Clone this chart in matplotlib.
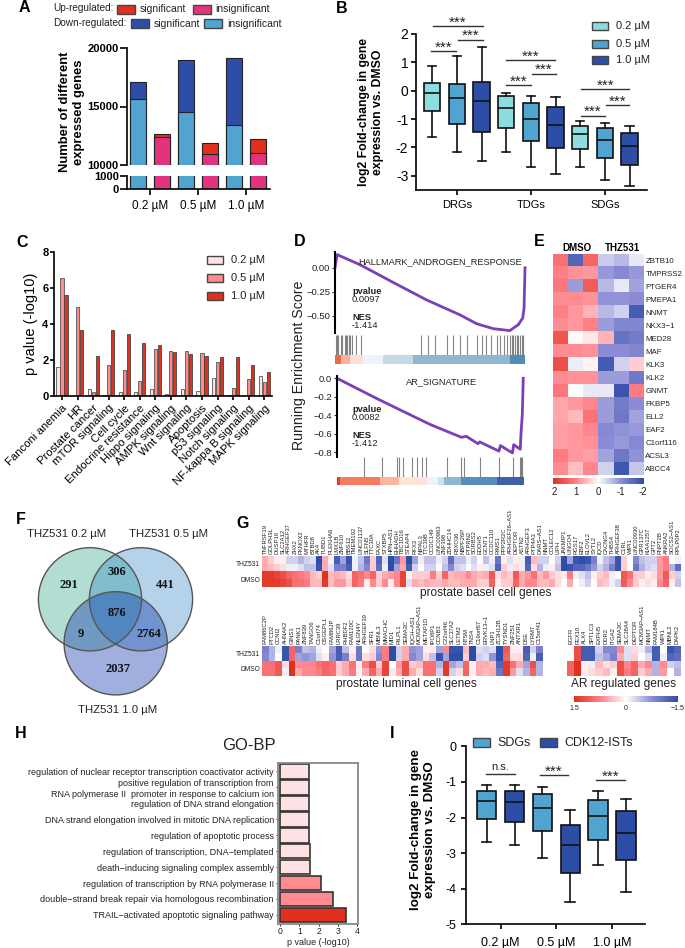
import numpy as np
import matplotlib
matplotlib.use('Agg')
import matplotlib.pyplot as plt
from matplotlib.colors import LinearSegmentedColormap
from matplotlib.patches import Rectangle, Circle

plt.rcParams['font.family'] = ['Liberation Sans', 'DejaVu Sans']

# colours
red = '#E0301E'
magenta = '#E2337F'
navy = '#2E4DA6'
sky = '#4FA5CF'
cyan = '#8CDDE0'
pink_l = '#FFE0E3'
pink_m = '#FF8A90'
rwb = LinearSegmentedColormap.from_list('rwb', [navy, '#8C8CD6', 'white', '#FF8088', red])

# panel A
doses = ['0.2 µM', '0.5 µM', '1.0 µM']
down_insig = [15600, 14550, 13400]
down_total = [17100, 18950, 19150]
up_insig = [12360, 10900, 11000]
up_total = [12640, 11850, 12200]

# panel B: whisker low, q1, median, q3, whisker high
b_groups = ['DRGs', 'TDGs', 'SDGs']
b_doses = ['0.2 µM', '0.5 µM', '1.0 µM']
b_drg = [[-1.63, -0.73, -0.08, 0.28, 0.87], [-2.15, -1.17, -0.25, 0.23, 1.22], [-2.47, -1.47, -0.38, 0.30, 1.55]]
b_tdg = [[-2.17, -1.33, -0.60, -0.20, -0.07], [-2.70, -1.78, -0.98, -0.43, -0.18], [-2.92, -2.03, -1.20, -0.58, -0.23]]
b_sdg = [[-2.68, -2.04, -1.53, -1.23, -1.07], [-3.13, -2.37, -1.72, -1.33, -1.13], [-3.35, -2.63, -1.95, -1.50, -1.23]]

# panel C
pathways = ['Fanconi anemia', 'HR', 'Prostate cancer', 'mTOR signaling', 'Cell cycle', 'Endocrine resistance',
            'Hippo signaling', 'AMPK signaling', 'Wnt signaling', 'Apoptosis', 'p53 signaling', 'Notch signaling',
            'NF-kappa B signaling', 'MAPK signaling']
c_02 = [1.6, 0.02, 0.4, 0.05, 0.2, 0.22, 0.38, 0.12, 0.38, 0.3, 1.0, 0.05, 0.02, 1.1]
c_05 = [6.55, 4.95, 0.2, 1.7, 1.45, 0.85, 2.6, 2.5, 2.5, 2.4, 1.9, 0.45, 0.95, 0.8]
c_10 = [5.6, 3.65, 2.2, 3.65, 3.45, 2.95, 2.85, 2.45, 2.35, 2.25, 2.15, 2.15, 1.75, 1.35]

# panel D
hall_rank = [0, .011, .13, .306, .482, .657, .745, .833, .92, .965, .988, .995, 1]
hall_es = [0, .138, .034, -.152, -.335, -.49, -.583, -.635, -.655, -.593, -.524, -.42, 0]
hall_hits = [.004, .012, .018, .030, .039, .053, .060, .065, .072, .081, .090, .113, .139, .450, .490,
             .525, .587, .619, .658, .693, .745, .776, .797, .823, .853, .867, .890, .906, .920, .929,
             .938, .947, .956, .965, .974, .982, .991, .998]
hall_strip = [0, .03, .077, .148, .253, .408, .921, 1]
hall_cols = ['#E9694F', '#F8B09A', '#FDE0D5', '#EEF3FA', '#C5DAE6', '#8DB8D0', '#4F8DB8']
ar_rank = [0, .213, .497, .665, .692, .754, .763, .866, .874, .938, .945, .980, .984, .991, .996]
ar_es = [0, -.22, -.50, -.64, -.63, -.71, -.69, -.79, -.73, -.81, -.72, -.77, -.60, -.39, 0]
ar_hits = [.142, .239, .322, .333, .351, .399, .426, .452, .474, .586, .662, .678, .763, .866, .940,
           .980, .985, .991, .998]
ar_strip = [0, .018, .231, .333, .479, .541, .573, .665, .855, 1]
ar_cols = ['#D9432F', '#F77B5F', '#FDB5A0', '#FDE3D8', '#EEF3FA', '#CFE0EA', '#8DB8D0', '#5B8DBC', '#3E62A8']

# panel E
e_genes = ['ZBTB10', 'TMPRSS2', 'PTGER4', 'PMEPA1', 'NNMT', 'NKX3−1', 'MED28', 'MAF', 'KLK3', 'KLK2', 'GNMT',
           'FKBP5', 'ELL2', 'EAF2', 'C1orf116', 'ACSL3', 'ABCC4']
e_vals = [[1.2, -1.6, 1.3, -0.45, -0.6, -0.2],
          [1.0, 0.85, 0.8, -0.9, -1.05, -0.9],
          [1.1, -0.85, 1.45, -0.6, -0.2, -0.8],
          [0.9, 0.9, 0.85, -0.95, -0.95, -1.0],
          [1.0, 0.8, 0.6, -0.6, -0.4, -1.75],
          [0.9, 0.8, 1.0, -0.85, -1.1, -1.1],
          [1.5, 0.05, 0.2, 0.6, -1.4, -1.25],
          [0.9, 0.9, 0.85, -1.0, -1.0, -1.1],
          [1.6, -0.15, 0.1, -1.75, -0.4, 0.4],
          [0.9, 0.85, 0.85, -0.85, -0.85, -1.3],
          [1.1, 0.02, -0.2, -0.2, -1.85, 1.05],
          [0.7, 0.8, 0.95, -0.85, -1.25, -1.0],
          [0.7, 0.55, 1.15, -0.85, -1.3, -0.8],
          [0.75, 0.8, 0.95, -1.05, -0.95, -0.9],
          [0.75, 0.8, 0.85, -1.0, -0.9, -1.05],
          [1.05, 0.8, 0.75, -0.8, -1.3, -0.95],
          [0.9, 0.5, 0.95, -0.4, -1.8, -0.5]]

# panel F
venn_counts = ['291', '306', '441', '876', '9', '2764', '2037']

# panel G, one line per gene: THZ531, THZ531, DMSO, DMSO
basal_genes = ['TNFRSF19', 'GOLPH3L', 'DUSP16', 'SLC2A12', 'ARHGEF37', 'ZHX2', 'PKNOX2', 'MTHFR', 'BTBD8', 'AK4',
               'TUBD1', 'PLEKHA6', 'LMX1B', 'ZNF610', 'BBS12', 'TMEM192', 'LINC01137', 'SLFN5', 'TTC30A', 'FAXC',
               'STXBP5', 'HPN−AS1', 'EHHADH', 'TBC1D16', 'STEAP4', 'RFX3', 'NIPAL3', 'TTC39B', 'CCDC149', 'LINC00963',
               'ZNF398', 'ZDHHC14', 'FBXO36', 'NBPF26P', 'PTPRN2', 'SORBS2', 'EDDH5', 'GCNT1', 'CCDC110', 'RIMS1',
               'PPP2R2C', 'ARHGEF26−AS1', 'DEPTOR', 'ASTN2', 'ARHGEF3', 'PTP4A3', 'DARS−AS1', 'NNMT', 'COLEC12', 'LIPH',
               'JAKMIP1', 'LINGO4', 'RGS17', 'EBF2', 'ELOVL2', 'SYTL2', 'IQCD', 'CACNG4', 'THBS4', 'ARHGEF38',
               'C1RL', 'WIPI1', 'LINC00930', 'GPR137C', 'KIAA1257', 'GPT2', 'PNPT2B', 'ANKRA2', 'SOCS2−AS1', 'RPLP0P2']
basal_vals = [[.5, .5, 1.4, 1.4], [.3, .4, 1.4, 1.4], [.1, .3, 1.3, 1.4], [.1, .2, 1.2, 1.3], [-.3, -.1, 1.0, 1.2],
              [-.3, -.1, .9, .9], [-.5, -.2, .8, .9], [-.3, -.4, .7, .8], [-.2, -.4, .4, .4], [-1.5, -1.4, .3, .4],
              [.5, .5, 1.5, 1.4], [.1, -.2, .4, .4], [-1.3, -.9, .5, .6], [-.6, -.9, .4, .6], [-1.4, -1.3, .2, .3],
              [-.1, -.1, 1.0, 1.0], [-.4, -.5, .9, .8], [-1.0, -.8, .7, .1], [.3, .3, 1.0, .7], [-1.2, -1.1, .3, .3],
              [-.2, -.1, .5, .7], [-1.5, -1.5, .6, .1], [-1.0, -.6, .7, .7], [.6, .5, 1.3, 1.3], [-1.5, -1.3, .1, -.2],
              [-.6, -.3, .3, .5], [-.1, .0, .3, .4], [-.4, -.3, .3, .5], [-.4, -.3, .8, .4], [-.1, .0, .3, .4],
              [-.3, -.4, 1.0, .5], [-1.1, -.8, .4, .4], [-.4, -.3, .5, .4], [-.4, -.2, .5, .5], [-.1, .0, .7, .5],
              [-.3, -.2, .5, .5], [.0, .1, .4, .3], [-.4, -.1, .5, .3], [-.1, -.2, 1.1, 1.0], [-1.0, -1.2, .2, .1],
              [.1, .3, .4, .3], [-.2, -.1, .3, .3], [.1, .2, 1.1, 1.0], [-.1, -.1, .5, .5], [-1.3, -1.2, .6, .7],
              [.4, .2, .9, .7], [-.3, -.5, .4, .4], [-.3, -.1, .6, .4], [.0, .1, .3, .5], [-.3, -.4, .2, .2],
              [-1.5, -1.5, .1, .0], [-.6, -1.4, .8, .5], [-1.4, -1.2, -.1, .0], [-1.5, -1.2, -.2, -.1], [-1.4, -1.0, -.4, -.3],
              [-.9, -.7, .1, .0], [-.1, -.3, .3, .4], [-.4, -.5, .4, .3], [-.6, -.9, -.1, -.1], [-1.4, -1.4, .0, -.3],
              [.3, .3, 1.1, 1.1], [.0, .0, .9, .7], [-.8, -1.0, .3, .3], [-.4, -.5, .3, .1], [-.3, -.3, .1, .2],
              [-.3, -.2, .2, .1], [.6, .6, .6, .7], [.8, .8, 1.1, 1.0], [.0, -.5, .3, .1], [-.1, -1.1, -.3, -.4]]
lum_genes = ['FAM86C2P', 'PTCD2', 'CCNI2', 'AHNAK2', 'GINS1', 'PANK1', 'ZNF839', 'TANGO6', 'C1orf74', 'OSGEPL1',
             'FAM86JP', 'LRRC39', 'RHBDF2', 'FAM120C', 'NLGN4Y', 'ARHGEF39', 'SFR1', 'MBNL3', 'MMACHC', 'MID1',
             'RILPL1', 'SEMA3C', 'IQCH−AS1', 'MCM3AP−AS1', 'METAP1D', 'IPO8P1', 'CCNB3', 'C22orf46', 'SLC37A2', 'LETM2',
             'NT5M', 'TNS4', 'C19orf67', 'ERVK13−1', 'LNP1', 'ZC3H12B', 'TYSND1', 'ZNF251', 'ANTXR1', 'DSE',
             'LYRM7', 'C15orf41']
lum_vals = [[-.9, -.8, .9, .9], [-.5, -.5, .9, .9], [-.1, .0, 1.1, 1.1], [-1.4, -1.4, .2, -.1], [1.0, 1.0, 1.5, 1.5],
            [-.9, -.6, .7, .5], [-.4, -.7, .7, .7], [-.5, -.6, .7, .7], [-.1, -.2, .9, .8], [.0, .1, 1.0, 1.0],
            [-.6, -.7, .9, .9], [-1.3, -1.3, .3, .3], [-.4, -.9, .5, .5], [.1, .2, .9, .8], [-1.0, -1.0, .1, .1],
            [.0, .2, .8, .5], [.2, .3, 1.2, 1.0], [-.7, -.8, .3, .5], [.8, .8, 1.3, 1.3], [-1.5, -1.5, .0, -.1],
            [-.3, -.3, .6, .5], [.5, .5, 1.2, 1.2], [-.7, -.8, .3, .5], [-.6, -.6, .4, .2], [.1, .2, .9, .9],
            [.1, -.4, .9, .9], [-.6, -1.4, -.5, -.3], [.7, -.6, 1.4, 1.4], [-1.4, -1.5, -.6, -.3], [-1.4, -1.5, -.4, .2],
            [.4, .3, 1.0, 1.0], [-1.5, -1.5, .1, .1], [-.2, -.3, .5, .5], [-.3, -.2, .5, .4], [-.2, -.7, .4, .5],
            [-1.5, -1.5, -1.2, -1.0], [1.1, 1.0, 1.4, 1.4], [.1, .2, .9, .6], [.1, .2, .5, -.2], [-1.3, -1.2, -.6, -.5],
            [-.3, -.1, 1.2, 1.0], [-.9, -1.3, -.5, -.5]]
ar_genes = ['EGFR', 'PEX10', 'ALX4', 'SPTLC3', 'EXPH5', 'DDR2', 'ITGA2', 'SEMA3C', 'SLC38A4', 'DEPTOR', 'MCM3AP−AS1',
            'NNMT', 'FAM184B', 'WIPI1', 'MBNL2', 'DAPK2']
ar_vals = [[.0, .0, 1.0, 1.0], [1.2, 1.2, 1.5, 1.5], [-1.3, -1.3, .1, .1], [-1.3, -1.3, -.1, .2], [-.3, -.4, .4, .3],
           [-.8, -.6, .2, .4], [-.8, -.9, .3, .1], [.7, .5, 1.2, 1.2], [-.2, -.2, .7, .8], [.2, .3, 1.0, 1.0],
           [-.1, .0, .5, .3], [-.5, -.2, .7, .5], [-1.3, -1.3, -.5, -.5], [.0, -.1, .7, .6], [-1.4, -1.2, -.3, .0],
           [-1.2, -1.1, -.4, -.5]]
g_rows = ['THZ531', 'DMSO']

# panel H
go_terms = ['TRAIL−activated apoptotic signaling pathway', 'double−strand break repair via homologous recombination',
            'regulation of transcription by RNA polymerase II', 'death−inducing signaling complex assembly',
            'regulation of transcription, DNA−templated', 'regulation of apoptotic process',
            'DNA strand elongation involved in mitotic DNA replication', 'regulation of DNA strand elongation',
            'positive regulation of transcription from\nRNA polymerase II  promoter in response to calcium ion',
            'regulation of nuclear receptor transcription coactivator activity']
go_vals = [3.4, 2.73, 2.1, 1.57, 1.55, 1.5, 1.48, 1.48, 1.5, 1.5]
go_cols = [red, pink_m, pink_m, pink_l, pink_l, pink_l, pink_l, pink_l, pink_l, pink_l]

# panel I
i_sdg = [[-2.69, -2.05, -1.54, -1.25, -1.09], [-3.15, -2.38, -1.74, -1.34, -1.14], [-3.34, -2.63, -1.97, -1.52, -1.25]]
i_cdk = [[-2.76, -2.13, -1.56, -1.25, -1.08], [-4.37, -3.55, -2.78, -2.22, -1.80], [-4.08, -3.19, -2.43, -1.83, -1.47]]

W, H = 685, 948
fig = plt.figure(figsize=(W / 100, H / 100), dpi=100)


def axpx(x0, y0, x1, y1):
    # axes from pixel box, origin top left like in the picture
    return fig.add_axes([x0 / W, 1 - y1 / H, (x1 - x0) / W, (y1 - y0) / H])


def draw_boxes(ax, stats, positions, colors, width):
    rows = [dict(whislo=s[0], q1=s[1], med=s[2], q3=s[3], whishi=s[4], fliers=[]) for s in stats]
    lw = 1.2
    parts = ax.bxp(rows, positions=positions, widths=width, patch_artist=True, showfliers=False,
                   boxprops=dict(linewidth=lw, edgecolor='#111111'), medianprops=dict(linewidth=lw, color='#111111'),
                   whiskerprops=dict(linewidth=lw, color='#111111'), capprops=dict(linewidth=lw, color='#111111'))
    for b, c in zip(parts['boxes'], colors):
        b.set_facecolor(c)


def clean(ax, lw=1.2):
    ax.spines['top'].set_visible(False)
    ax.spines['right'].set_visible(False)
    ax.spines['left'].set_linewidth(lw)
    ax.spines['bottom'].set_linewidth(lw)
    ax.tick_params(width=lw)


def bracket(ax, x0, x1, y, label='***', dy=-2.5, size=11):
    ax.plot([x0, x1], [y, y], color='#333333', lw=1.0, clip_on=False)
    ax.annotate(label, ((x0 + x1) / 2, y), xytext=(0, dy), textcoords='offset points', ha='center', va='bottom',
                fontsize=size, color='#222222', annotation_clip=False)


# overlay in pixel coordinates for legends, letters and the venn
bg = fig.add_axes([0, 0, 1, 1], zorder=10)
bg.set_xlim(0, W)
bg.set_ylim(H, 0)
bg.axis('off')


def swatch(x0, y0, x1, y1, c):
    bg.add_patch(Rectangle((x0, y0), x1 - x0, y1 - y0, facecolor=c, edgecolor='#444444', lw=1.0))


for letter, lx, ly in [('A', 24, 7), ('B', 342, 8), ('C', 22, 242), ('D', 300, 241), ('E', 539, 241),
                       ('F', 21, 520), ('G', 243, 523), ('H', 21, 734), ('I', 392, 733)]:
    bg.text(lx, ly, letter, fontsize=11.5, fontweight='bold', ha='center', va='center')

# A
bg.text(53, 8, 'Up-regulated:', fontsize=7.2, va='center', color='#222222')
bg.text(53, 23, 'Down-regulated:', fontsize=7.2, va='center', color='#222222')
swatch(117, 5, 135, 14, red)
bg.text(140, 9, 'significant', fontsize=7.5, va='center', color='#222222')
swatch(193, 5, 211, 14, magenta)
bg.text(215, 9, 'insignificant', fontsize=7.5, va='center', color='#222222')
swatch(131, 19, 149, 28, navy)
bg.text(154, 24, 'significant', fontsize=7.5, va='center', color='#222222')
swatch(204, 19, 222, 28, sky)
bg.text(227, 24, 'insignificant', fontsize=7.5, va='center', color='#222222')

a_top = axpx(127, 48, 270, 165)
a_low = axpx(127, 176, 270, 189)
a_x = np.arange(3)
for ax in (a_top, a_low):
    ax.bar(a_x - .25, down_total, .34, color=navy, edgecolor='#222222', lw=0.8)
    ax.bar(a_x - .25, down_insig, .34, color=sky, edgecolor='#222222', lw=0.8)
    ax.bar(a_x + .25, up_total, .34, color=red, edgecolor='#222222', lw=0.8)
    ax.bar(a_x + .25, up_insig, .34, color=magenta, edgecolor='#222222', lw=0.8)
    ax.set_xlim(-.48, 2.5)
    clean(ax)
a_top.set_ylim(10000, 20000)
a_top.set_yticks([10000, 15000, 20000])
a_top.spines['bottom'].set_visible(False)
a_top.set_xticks([])
a_low.set_ylim(0, 1000)
a_low.set_yticks([0, 1000])
a_low.set_xticks(a_x)
a_low.set_xticklabels(doses, fontsize=8.5)
for ax in (a_top, a_low):
    for t in ax.get_yticklabels():
        t.set_fontsize(8)
        t.set_fontweight('bold')
    ax.tick_params(axis='y', pad=1, length=5)
a_low.tick_params(axis='x', pad=4, length=4)
bg.text(72, 112, 'Number of different\nexpressed genes', fontsize=9.4, fontweight='bold', rotation=90,
        ha='center', va='center', linespacing=1.15)

# B
b_ax = axpx(416, 30, 647, 190)
pos = []
stats = []
cols = []
for i, grp in enumerate([b_drg, b_tdg, b_sdg]):
    for j, s in enumerate(grp):
        pos.append(i + (j - 1) / 3)
        stats.append(s)
        cols.append([cyan, sky, navy][j])
draw_boxes(b_ax, stats, pos, cols, .22)
b_ax.set_xlim(-.554, 2.57)
b_ax.set_ylim(-3.5, 2.14)
b_ax.spines['left'].set_bounds(-3.5, 2)
b_ax.set_xticks([0, 1, 2])
b_ax.set_xticklabels(b_groups, fontsize=8)
b_ax.set_yticks([-3, -2, -1, 0, 1, 2])
b_ax.set_yticklabels(['-3', '-2', '-1', '0', '1', '2'], fontsize=10)
b_ax.tick_params(axis='y', pad=2)
clean(b_ax)
for x0, x1, y in [(-.32, .35, 2.27), (.02, .35, 1.8), (-.35, -.015, 1.4), (.66, 1.33, 1.08), (1.01, 1.34, .6),
                  (.66, 1.0, .2), (1.68, 2.33, .05), (2.01, 2.33, -.5), (1.68, 2.0, -.88)]:
    bracket(b_ax, x0, x1, y)
bg.text(371, 112, 'log2 Fold-change in gene\nexpression vs. DMSO', fontsize=8.8, fontweight='bold', rotation=90,
        ha='center', va='center', linespacing=1.15)
for lab, c, ly in zip(b_doses, [cyan, sky, navy], [26, 44, 60]):
    swatch(592, ly - 4, 608, ly + 4, c)
    bg.text(616, ly, lab, fontsize=8, va='center', color='#222222')

# C
c_ax = axpx(54, 252, 272, 396)
c_x = np.arange(len(pathways))
c_ax.bar(c_x - .26, c_02, .2, color=pink_l, edgecolor='#555555', lw=0.6)
c_ax.bar(c_x, c_05, .2, color=pink_m, edgecolor='#555555', lw=0.6)
c_ax.bar(c_x + .26, c_10, .2, color=red, edgecolor='#444444', lw=0.6)
c_ax.set_xlim(-.515, 13.5)
c_ax.set_ylim(0, 8)
c_ax.set_yticks([0, 2, 4, 6, 8])
c_ax.set_yticklabels(['0', '2', '4', '6', '8'], fontsize=8, fontweight='bold')
c_ax.set_xticks(c_x)
c_ax.set_xticklabels(pathways, rotation=45, ha='right', rotation_mode='anchor', fontsize=8.2)
c_ax.tick_params(axis='y', pad=1, length=3)
c_ax.tick_params(axis='x', pad=2, length=3)
clean(c_ax)
c_ax.set_ylabel('p value (-log10)', fontsize=10.5, labelpad=3)
for lab, c, ly in zip(b_doses, [pink_l, pink_m, red], [260, 278, 296]):
    swatch(207, ly - 4, 223, ly + 4, c)
    bg.text(231, ly, lab, fontsize=8, va='center', color='#222222')


# D
def gsea(box_curve, box_rug, box_strip, rank, es, hits, edges, colours, ylim, ticks, ticklabels):
    ax = axpx(*box_curve)
    ax.plot(rank, es, color='#7B3FB8', lw=2, clip_on=False)
    ax.set_xlim(0, 1)
    ax.set_ylim(*ylim)
    ax.set_xticks([])
    ax.set_yticks(ticks)
    ax.set_yticklabels(ticklabels, fontsize=6.8, color='#222222')
    ax.tick_params(axis='y', length=2, width=0.6, pad=1.5)
    for s in ['top', 'right', 'bottom']:
        ax.spines[s].set_visible(False)
    ax.spines['left'].set_linewidth(1.5)
    rug = axpx(*box_rug)
    rug.vlines(hits, 0, 1, color='#333333', lw=0.8, alpha=0.6)
    rug.set_xlim(0, 1)
    rug.set_ylim(0, 1)
    rug.axis('off')
    strip = axpx(*box_strip)
    for e0, e1, c in zip(edges[:-1], edges[1:], colours):
        strip.axvspan(e0, e1, color=c, lw=0)
    strip.set_xlim(0, 1)
    strip.axis('off')
    return ax


gsea((335, 252, 525, 333), (335, 335, 525, 355), (335, 355, 525, 364), hall_rank, hall_es, hall_hits, hall_strip,
     hall_cols, (-.68, .165), [0, -.25, -.5], ['0.00', '−0.25', '−0.50'])
gsea((337, 376, 524, 457), (337, 457.3, 524, 476.7), (337, 476.7, 524, 485), ar_rank, ar_es, ar_hits, ar_strip,
     ar_cols, (-.854, .025), [0, -.2, -.4, -.6, -.8], ['0.0', '−0.2', '−0.4', '−0.6', '−0.8'])
bg.text(522, 262, 'HALLMARK_ANDROGEN_RESPONSE', fontsize=6.7, ha='right', va='center', color='#222222')
bg.text(442, 382, 'AR_SIGNATURE', fontsize=6.7, ha='center', va='center', color='#222222')
for yy, txt, weight in [(291, 'pvalue', 'bold'), (300, '0.0097', 'normal'), (317, 'NES', 'bold'), (325, '-1.414', 'normal'),
                        (409, 'pvalue', 'bold'), (418, '0.0082', 'normal'), (435, 'NES', 'bold'), (443, '-1.412', 'normal')]:
    bg.text(352, yy, txt, fontsize=6.7, fontweight=weight, va='center', color='#222222')
bg.text(299, 365, 'Running Enrichment Score', fontsize=10.2, rotation=90, ha='center', va='center', color='#222222')

# E
e_ax = axpx(553, 254, 644, 475)
e_ax.imshow(e_vals, cmap=rwb, vmin=-2, vmax=2, aspect='auto', interpolation='nearest')
e_ax.set_xticks([])
e_ax.set_yticks(range(len(e_genes)))
e_ax.set_yticklabels(e_genes, fontsize=5.7, color='#222222')
e_ax.yaxis.tick_right()
e_ax.tick_params(axis='y', length=0, pad=1)
for s in e_ax.spines.values():
    s.set_visible(False)
bg.text(577, 248, 'DMSO', fontsize=7, fontweight='bold', ha='center', va='center')
bg.text(622, 248, 'THZ531', fontsize=7, fontweight='bold', ha='center', va='center')
e_cb = axpx(553, 478, 644, 484.5)
e_cb.imshow([np.linspace(2, -2, 200)], cmap=rwb, vmin=-2, vmax=2, aspect='auto', extent=(2, -2, 0, 1))
e_cb.set_yticks([])
e_cb.set_xticks([1.95, 1, 0, -1, -1.95])
e_cb.set_xticklabels(['2', '1', '0', '-1', '-2'], fontsize=7, color='#222222')
e_cb.tick_params(axis='x', length=0, pad=2)
for s in e_cb.spines.values():
    s.set_visible(False)

# F
for cx, cy, c, a in [(90, 599.3, '#169877', .33), (141, 599.3, '#1C7CC5', .33), (115.7, 643.3, '#052FA7', .38)]:
    bg.add_patch(Circle((cx, cy), 51.6, facecolor=c, alpha=a, edgecolor='none'))
for cx, cy in [(90, 599.3), (141, 599.3), (115.7, 643.3)]:
    bg.add_patch(Circle((cx, cy), 51.6, facecolor='none', edgecolor='#555555', lw=1.0))
for lab, vx, vy in zip(venn_counts, [69, 117, 165, 117, 81, 149, 118], [585, 572, 585, 613, 634, 634, 669]):
    bg.text(vx, vy, lab, fontsize=9, fontweight='bold', family='Liberation Serif', ha='center', va='center', color='#111111')
for lab, tx, ty in [('THZ531 0.2 µM', 67, 534), ('THZ531 0.5 µM', 169, 534), ('THZ531 1.0 µM', 118, 710)]:
    bg.text(tx, ty, lab, fontsize=8.2, ha='center', va='center', color='#222222')


# G
def heat(box, genes, vals, show_rows=True):
    ax = axpx(*box)
    ax.imshow(np.array(vals).T, cmap=rwb, vmin=-1.5, vmax=1.5, aspect='auto', interpolation='nearest')
    ax.xaxis.tick_top()
    ax.set_xticks(range(len(genes)))
    ax.set_xticklabels(genes, rotation=90, fontsize=4.2, color='#222222')
    ax.tick_params(axis='x', length=0, pad=1.5)
    if show_rows:
        ax.set_yticks([.5, 2.5])
        ax.set_yticklabels(g_rows, fontsize=4.8, color='#222222')
        ax.tick_params(axis='y', length=0, pad=1.5)
    else:
        ax.set_yticks([])
    for s in ax.spines.values():
        s.set_visible(False)


heat((262, 556, 681, 587), basal_genes, basal_vals)
heat((262, 646, 543, 676), lum_genes, lum_vals)
heat((567, 646, 681, 676), ar_genes, ar_vals, show_rows=False)
bg.text(486, 592.7, 'prostate basel cell genes', fontsize=8.6, ha='center', va='center', color='#222222')
bg.text(406, 684, 'prostate luminal cell genes', fontsize=8.6, ha='center', va='center', color='#222222')
bg.text(624, 684, 'AR regulated genes', fontsize=8.6, ha='center', va='center', color='#222222')
g_cb = axpx(574, 696, 678, 702)
g_cb.imshow([np.linspace(1.5, -1.5, 200)], cmap=rwb, vmin=-1.5, vmax=1.5, aspect='auto', extent=(1.5, -1.5, 0, 1))
g_cb.set_yticks([])
g_cb.set_xticks([1.5, 0, -1.5])
g_cb.set_xticklabels(['1.5', '0', '−1.5'], fontsize=5, color='#222222')
g_cb.tick_params(axis='x', length=0, pad=2)
for s in g_cb.spines.values():
    s.set_visible(False)

# H
h_ax = axpx(278, 763, 358, 924)
h_y = np.arange(len(go_terms))
h_ax.barh(h_y, go_vals, .92, color=go_cols, edgecolor='#333333', lw=1.2)
h_ax.set_xlim(-.12, 4.05)
h_ax.set_ylim(-.57, 9.53)
h_ax.set_yticks(h_y)
h_ax.set_yticklabels(go_terms, fontsize=6.45, color='#222222', linespacing=1.25)
h_ax.set_xticks([0, 1, 2, 3, 4])
h_ax.tick_params(axis='x', labelsize=6.2, length=1.5, width=0.6, pad=1, labelcolor='#222222')
h_ax.tick_params(axis='y', length=1.5, width=0.6, pad=1.5)
h_ax.set_xlabel('p value (-log10)', fontsize=6.5, labelpad=1, color='#222222')
for s in h_ax.spines.values():
    s.set_edgecolor('#888888')
    s.set_linewidth(1.3)
bg.text(249, 746, 'GO-BP', fontsize=12, ha='center', va='center', color='#222222')

# I
i_ax = axpx(466, 746.3, 645, 924.3)
i_pos = []
i_stats = []
i_cols = []
for k in range(3):
    i_pos += [k - .25, k + .25]
    i_stats += [i_sdg[k], i_cdk[k]]
    i_cols += [sky, navy]
draw_boxes(i_ax, i_stats, i_pos, i_cols, .347)
i_ax.set_xlim(-.62, 2.59)
i_ax.set_ylim(-5, 0)
i_ax.set_xticks([0, 1, 2])
i_ax.set_xticklabels(doses, fontsize=9)
i_ax.set_yticks([0, -1, -2, -3, -4, -5])
i_ax.set_yticklabels(['0', '-1', '-2', '-3', '-4', '-5'], fontsize=9)
i_ax.tick_params(axis='x', pad=6)
clean(i_ax)
bracket(i_ax, -.263, .257, -.77, label='n.s.', dy=1, size=8)
bracket(i_ax, .70, 1.216, -.81)
bracket(i_ax, 1.71, 2.23, -.95)
bg.text(423, 830, 'log2 Fold-change in gene\nexpression vs. DMSO', fontsize=9.6, fontweight='bold', rotation=90,
        ha='center', va='center', linespacing=1.15)
swatch(473, 738, 490, 747, sky)
bg.text(497, 742.7, 'SDGs', fontsize=9, va='center', color='#222222')
swatch(540, 738, 557, 747, navy)
bg.text(564, 742.7, 'CDK12-ISTs', fontsize=9, va='center', color='#222222')

fig.savefig('out.png', dpi=100)
